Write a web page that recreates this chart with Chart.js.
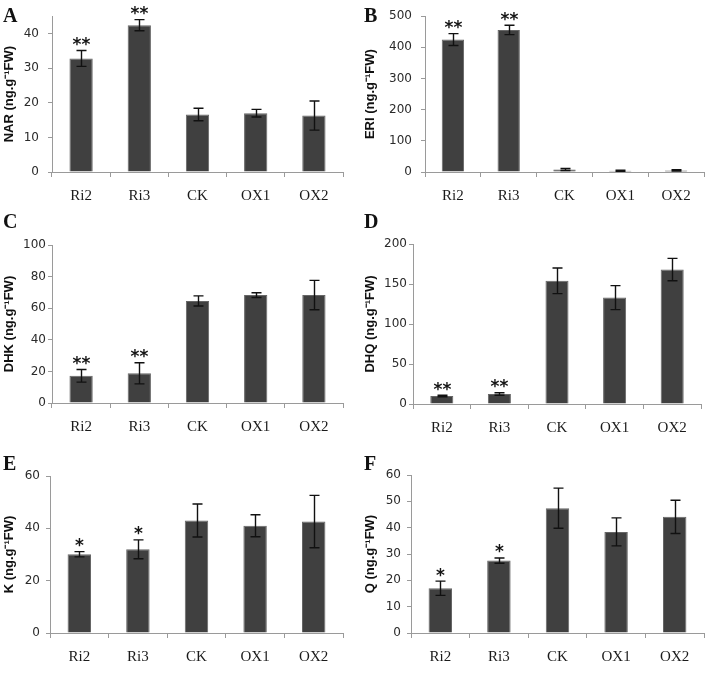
<!DOCTYPE html>
<html>
<head>
<meta charset="utf-8">
<script src="https://cdn.jsdelivr.net/npm/chart.js@4.4.0/dist/chart.umd.min.js"></script>
<style>
  body { margin: 0; background: #fff; }
  #wrap { position: relative; width: 722px; height: 682px; overflow: hidden; }
  .panel { position: absolute; }
  .letter { position: absolute; font: bold 20px "Liberation Serif", serif; color: #111; }
</style>
</head>
<body>
<div id="wrap">
  <div class="letter" style="left:3px;top:4px">A</div>
  <div class="letter" style="left:364px;top:4px">B</div>
  <div class="letter" style="left:3px;top:210px">C</div>
  <div class="letter" style="left:364px;top:210px">D</div>
  <div class="letter" style="left:3px;top:452px">E</div>
  <div class="letter" style="left:364px;top:452px">F</div>
</div>
<script>
// categories shared by all six panels
const categories = ['Ri2', 'Ri3', 'CK', 'OX1', 'OX2'];

// A - NAR
const narMean = [32.8, 42.4, 16.6, 17.0, 16.3];
const narErr = [2.3, 1.6, 1.8, 1.1, 4.2];
const narStars = ['**', '**', '', '', ''];

// B - ERI
const eriMean = [425, 456, 8, 4, 5];
const eriErr = [19, 15, 3, 2, 2];
const eriStars = ['**', '**', '', '', ''];

// C - DHK
const dhkMean = [17.2, 18.8, 64.6, 68.3, 68.3];
const dhkErr = [4.0, 6.7, 3.2, 1.5, 9.3];
const dhkStars = ['**', '**', '', '', ''];

// D - DHQ
const dhqMean = [10, 12.5, 154, 133, 168];
const dhqErr = [1, 1.5, 16, 15, 14];
const dhqStars = ['**', '**', '', '', ''];

// E - K
const kMean = [30.1, 32.0, 43.0, 41.0, 42.6];
const kErr = [1.0, 3.6, 6.3, 4.2, 10.0];
const kStars = ['*', '*', '', '', ''];

// F - Q
const qMean = [17.0, 27.5, 47.4, 38.4, 44.1];
const qErr = [2.7, 1.0, 7.6, 5.3, 6.3];
const qStars = ['*', '*', '', '', ''];

const AXIS_GREY = '#9a9a9a';
const BAR_FILL = '#404040';

// error bars + significance marks drawn from the bar scale positions
const errorBarPlugin = {
    id: 'errbars',
    afterDatasetsDraw(chart, args, opts) {
        const ctx = chart.ctx;
        const meta = chart.getDatasetMeta(0);
        const yScale = chart.scales.y;
        const values = chart.data.datasets[0].data;
        ctx.save();
        ctx.strokeStyle = '#111';
        ctx.lineWidth = 1.4;
        meta.data.forEach((bar, i) => {
            const v = values[i];
            const e = opts.err[i];
            const yTop = yScale.getPixelForValue(v + e);
            const yBot = yScale.getPixelForValue(Math.max(0, v - e));
            const x = Math.round(bar.x) + 0.5;
            ctx.beginPath();
            ctx.moveTo(x, yTop);
            ctx.lineTo(x, yBot);
            ctx.moveTo(x - 5, yTop);
            ctx.lineTo(x + 5, yTop);
            ctx.moveTo(x - 5, yBot);
            ctx.lineTo(x + 5, yBot);
            ctx.stroke();

            const s = opts.stars[i];
            if (s) {
                ctx.font = 'bold 17px "DejaVu Sans", sans-serif';
                ctx.fillStyle = '#151515';
                ctx.textAlign = 'center';
                ctx.textBaseline = 'alphabetic';
                const m = ctx.measureText(s);
                const cy = yTop - 9;
                const base = cy + (m.actualBoundingBoxAscent - m.actualBoundingBoxDescent) / 2;
                ctx.fillText(s, x, base);
            }
        });
        ctx.restore();
    }
};

function makePanel(p) {
    const div = document.createElement('div');
    div.className = 'panel';
    div.style.left = p.L + 'px';
    div.style.top = p.T + 'px';
    const canvas = document.createElement('canvas');
    canvas.width = p.W;
    canvas.height = p.H;
    canvas.style.width = p.W + 'px';
    canvas.style.height = p.H + 'px';
    div.appendChild(canvas);
    const wrap = document.getElementById('wrap');
    wrap.insertBefore(div, wrap.firstChild);

    new Chart(canvas.getContext('2d'), {
        type: 'bar',
        data: {
            labels: categories,
            datasets: [{
                data: p.mean,
                backgroundColor: BAR_FILL,
                borderColor: '#666',
                borderWidth: 1,
                barPercentage: 0.4,
                categoryPercentage: 1.0
            }]
        },
        options: {
            responsive: false,
            animation: false,
            devicePixelRatio: 1,
            layout: {
                padding: { top: p.plotTop - p.T, right: p.L + p.W - p.plotRight, left: 0, bottom: 0 }
            },
            plugins: {
                legend: { display: false },
                tooltip: { enabled: false },
                errbars: { err: p.err, stars: p.stars }
            },
            scales: {
                x: {
                    offset: true,
                    border: { display: true, color: AXIS_GREY, width: 1 },
                    grid: {
                        offset: true,
                        drawOnChartArea: false,
                        drawTicks: true,
                        tickLength: 5,
                        color: AXIS_GREY
                    },
                    ticks: {
                        padding: 10,
                        color: '#1a1a1a',
                        font: { family: '"Liberation Serif", serif', size: 15 }
                    },
                    afterFit: s => { s.height = p.T + p.H - p.plotBottom; }
                },
                y: {
                    min: 0,
                    max: p.max,
                    border: { display: true, color: AXIS_GREY, width: 1 },
                    grid: {
                        drawOnChartArea: false,
                        drawTicks: true,
                        tickLength: 4,
                        color: AXIS_GREY
                    },
                    ticks: {
                        stepSize: p.step,
                        padding: p.tickPad,
                        color: '#2a2a2a',
                        font: { family: '"DejaVu Sans", sans-serif', size: 12 }
                    },
                    afterBuildTicks: s => {
                        s.ticks = s.ticks.filter(t => t.value % p.step === 0);
                    },
                    title: {
                        display: true,
                        text: p.title,
                        color: '#111',
                        padding: { top: 2, bottom: 0 },
                        font: { family: '"Liberation Sans", sans-serif', size: 13, weight: 'bold' }
                    },
                    afterFit: s => { s.width = p.plotLeft - p.L; }
                }
            }
        },
        plugins: [errorBarPlugin]
    });
}

makePanel({ L: 0, T: 0, W: 361, H: 215, plotLeft: 52, plotRight: 343, plotTop: 14, plotBottom: 172,
    mean: narMean, err: narErr, stars: narStars, title: 'NAR (ng.g\u207B\u00B9FW)', max: 45, step: 10, tickPad: 9 });
makePanel({ L: 361, T: 0, W: 361, H: 215, plotLeft: 425, plotRight: 704, plotTop: 15, plotBottom: 172,
    mean: eriMean, err: eriErr, stars: eriStars, title: 'ERI (ng.g\u207B\u00B9FW)', max: 500, step: 100, tickPad: 9 });
makePanel({ L: 0, T: 225, W: 361, H: 215, plotLeft: 52, plotRight: 343, plotTop: 245, plotBottom: 403,
    mean: dhkMean, err: dhkErr, stars: dhkStars, title: 'DHK (ng.g\u207B\u00B9FW)', max: 100, step: 20, tickPad: 2 });
makePanel({ L: 361, T: 225, W: 361, H: 215, plotLeft: 413, plotRight: 701, plotTop: 244, plotBottom: 404,
    mean: dhqMean, err: dhqErr, stars: dhqStars, title: 'DHQ (ng.g\u207B\u00B9FW)', max: 200, step: 50, tickPad: 2 });
makePanel({ L: 0, T: 455, W: 361, H: 227, plotLeft: 50, plotRight: 343, plotTop: 476, plotBottom: 633,
    mean: kMean, err: kErr, stars: kStars, title: 'K (ng.g\u207B\u00B9FW)', max: 60, step: 20, tickPad: 6 });
makePanel({ L: 361, T: 455, W: 361, H: 227, plotLeft: 411, plotRight: 704, plotTop: 475, plotBottom: 633,
    mean: qMean, err: qErr, stars: qStars, title: 'Q (ng.g\u207B\u00B9FW)', max: 60, step: 10, tickPad: 6 });
</script>
</body>
</html>
